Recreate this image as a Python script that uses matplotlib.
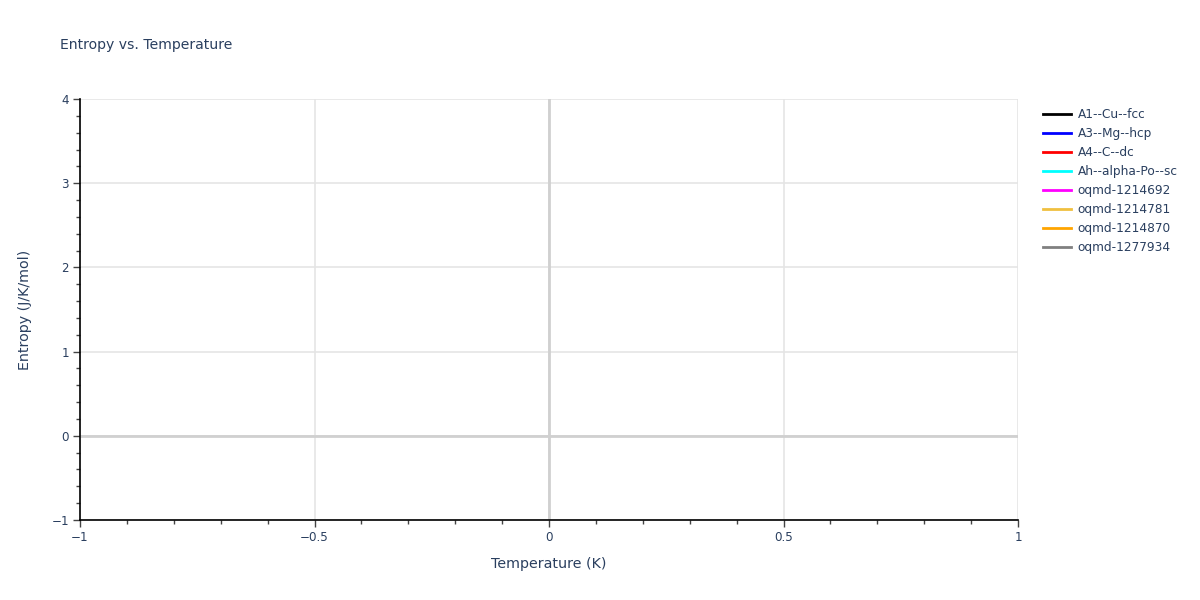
import matplotlib
matplotlib.use("Agg")
import matplotlib.pyplot as plt
from matplotlib.ticker import MultipleLocator, FuncFormatter

plt.rcParams['font.family'] = ['DejaVu Sans']

series_names = ["A1--Cu--fcc", "A3--Mg--hcp", "A4--C--dc", "Ah--alpha-Po--sc",
                "oqmd-1214692", "oqmd-1214781", "oqmd-1214870", "oqmd-1277934"]
series_colors = ["black", "blue", "red", "cyan", "magenta", "#f0c040", "orange", "gray"]
temperature = [[] for _ in series_names]
entropy = [[] for _ in series_names]

x_range = [-1, 1]
y_range = [-1, 4]

txt = "#2a3f5f"
fig = plt.figure(figsize=(12, 6), dpi=100)
ax = fig.add_axes([80/1200, 80/600, (1018-80)/1200, (520-99)/600])

for name, c, xs, ys in zip(series_names, series_colors, temperature, entropy):
    ax.plot(xs, ys, color=c, lw=2, label=name)

ax.set_xlim(*x_range)
ax.set_ylim(*y_range)
ax.xaxis.set_major_locator(MultipleLocator(0.5))
ax.xaxis.set_minor_locator(MultipleLocator(0.1))
ax.yaxis.set_major_locator(MultipleLocator(1))
ax.yaxis.set_minor_locator(MultipleLocator(0.2))

def fmt(v, pos):
    s = ("%g" % v)
    return s.replace("-", "\u2212")
ax.xaxis.set_major_formatter(FuncFormatter(fmt))
ax.yaxis.set_major_formatter(FuncFormatter(fmt))

ax.grid(True, which='major', color='#e5e5e5', lw=1.2)
ax.axhline(0, color='#d0d0d0', lw=2, zorder=1)
ax.axvline(0, color='#d0d0d0', lw=2, zorder=1)
ax.set_axisbelow(True)

for s in ['top', 'right']:
    ax.spines[s].set_visible(False)
for s in ['left', 'bottom']:
    ax.spines[s].set_color('black')
    ax.spines[s].set_linewidth(1.2)

ax.tick_params(which='major', direction='out', length=5, width=1, color='#444444',
               labelcolor=txt, labelsize=8.6, pad=3)
ax.tick_params(which='minor', direction='out', length=3, width=1, color='#444444')

ax.set_xlabel("Temperature (K)", color=txt, fontsize=10.3, labelpad=9)
ax.set_ylabel("Entropy (J/K/mol)", color=txt, fontsize=10.3, labelpad=14)
fig.text(60/1200, 1 - 45/600, "Entropy vs. Temperature", color=txt, fontsize=10.1,
         ha='left', va='center')

leg = ax.legend(loc='upper left', bbox_to_anchor=(1043/1200, 1 - 108/600),
                bbox_transform=fig.transFigure, frameon=False, fontsize=8.7,
                handlelength=2.3, handletextpad=0.55, labelspacing=0.5,
                labelcolor=txt, borderaxespad=0, borderpad=0)

fig.savefig("out.png", dpi=100, facecolor='white')
